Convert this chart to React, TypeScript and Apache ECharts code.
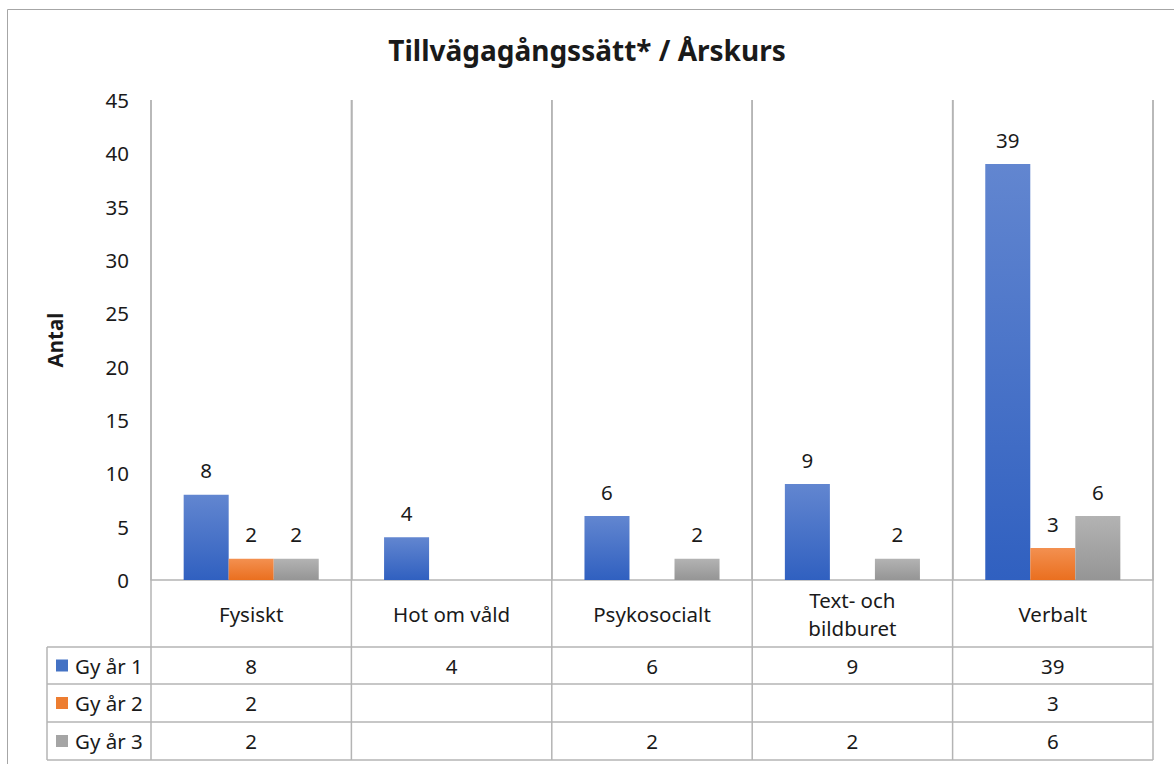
import React, { useEffect, useRef } from "react";
import * as echarts from "echarts";

const categories = ["Fysiskt", "Hot om våld", "Psykosocialt", "Text- och\nbildburet", "Verbalt"];
const seriesNames = ["Gy år 1", "Gy år 2", "Gy år 3"];
const gy1 = [8, 4, 6, 9, 39];
const gy2 = [2, null, null, null, 3];
const gy3 = [2, null, 2, 2, 6];
const yTicks = { min: 0, max: 45, interval: 5 };

const FONT = "'Noto Sans', Lato, sans-serif";
const GRID = { left: 151, top: 100, width: 1002, height: 480 };
const ROWS = [647, 684, 722, 760];
const TABLE_LEFT = 47;
const LINE = "#b4b4b4";
const FS = 20.5;

const grad = (top: string, bottom: string) =>
  new echarts.graphic.LinearGradient(0, 0, 0, 1, [
    { offset: 0, color: top },
    { offset: 1, color: bottom },
  ]);

const colors = [
  { top: "#6286d0", bottom: "#3060c0", key: "#4472c4" },
  { top: "#f39050", bottom: "#ea6f1f", key: "#ed7d31" },
  { top: "#b3b3b3", bottom: "#959595", key: "#a5a5a5" },
];

export default function App() {
  const ref = useRef<HTMLDivElement>(null);
  useEffect(() => {
    const chart = echarts.init(ref.current!, null, { renderer: "svg" });
    const allSeries = [gy1, gy2, gy3];
    const right = GRID.left + GRID.width;
    const band = GRID.width / categories.length;

    const graphics: any[] = [];
    graphics.push({
      type: "rect",
      shape: { x: 7.5, y: 9.5, width: 1180, height: 780 },
      style: { fill: "none", stroke: "#a6a6a6", lineWidth: 1 },
      silent: true,
    });
    ROWS.forEach((y) => {
      graphics.push({
        type: "line",
        shape: { x1: TABLE_LEFT, y1: y, x2: right, y2: y },
        style: { stroke: LINE, lineWidth: 1.5 },
      });
    });
    graphics.push({
      type: "line",
      shape: { x1: TABLE_LEFT, y1: ROWS[0], x2: TABLE_LEFT, y2: ROWS[3] },
      style: { stroke: LINE, lineWidth: 1.5 },
    });
    for (let i = 0; i <= categories.length; i++) {
      const x = GRID.left + band * i;
      graphics.push({
        type: "line",
        shape: { x1: x, y1: GRID.top, x2: x, y2: ROWS[3] },
        style: { stroke: LINE, lineWidth: 1.5 },
      });
    }
    allSeries.forEach((vals, r) => {
      const cy = (ROWS[r] + ROWS[r + 1]) / 2;
      graphics.push({
        type: "rect",
        shape: { x: 56, y: cy - 6, width: 12, height: 12 },
        style: { fill: colors[r].key },
      });
      graphics.push({
        type: "text",
        x: 75,
        y: cy,
        style: {
          text: seriesNames[r],
          font: `${FS}px ${FONT}`,
          fill: "#1a1a1a",
          verticalAlign: "middle",
          align: "left",
        },
      });
      vals.forEach((v, c) => {
        if (v == null) return;
        graphics.push({
          type: "text",
          x: GRID.left + band * (c + 0.5),
          y: cy,
          style: {
            text: String(v),
            font: `${FS}px ${FONT}`,
            fill: "#1a1a1a",
            align: "center",
            verticalAlign: "middle",
          },
        });
      });
    });

    chart.setOption({
      animation: false,
      backgroundColor: "#ffffff",
      title: {
        text: "Tillvägagångssätt* / Årskurs",
        left: "center",
        top: 31,
        textStyle: { fontFamily: FONT, fontSize: 28, fontWeight: "bold", color: "#1a1a1a" },
      },
      grid: { left: GRID.left, top: GRID.top, width: GRID.width, height: GRID.height },
      xAxis: {
        type: "category",
        data: categories,
        boundaryGap: true,
        axisTick: { show: false },
        axisLine: { show: true, lineStyle: { color: LINE, width: 1.5 } },
        splitLine: { show: true, lineStyle: { color: LINE, width: 1.5 } },
        axisLabel: {
          margin: 34,
          verticalAlign: "middle",
          lineHeight: 28,
          fontFamily: FONT,
          fontSize: FS,
          color: "#1a1a1a",
          interval: 0,
        },
      },
      yAxis: {
        type: "value",
        min: yTicks.min,
        max: yTicks.max,
        interval: yTicks.interval,
        name: "Antal",
        nameLocation: "middle",
        nameGap: 86,
        nameRotate: 90,
        nameTextStyle: { fontFamily: FONT, fontSize: FS, fontWeight: "bold", color: "#1a1a1a" },
        axisLine: { show: false },
        axisTick: { show: false },
        splitLine: { show: false },
        axisLabel: { margin: 22, fontFamily: FONT, fontSize: FS, color: "#1a1a1a" },
      },
      series: allSeries.map((vals, i) => ({
        type: "bar",
        name: seriesNames[i],
        data: vals,
        barGap: "0%",
        barCategoryGap: "32.6%",
        itemStyle: { color: grad(colors[i].top, colors[i].bottom) },
        label: {
          show: true,
          position: "top",
          distance: 14,
          fontFamily: FONT,
          fontSize: FS,
          color: "#1a1a1a",
        },
      })),
      graphic: graphics,
    });
    return () => chart.dispose();
  }, []);
  return (
    <div
      ref={ref}
      style={{ position: "absolute", left: 0, top: 0, width: 1174, height: 764 }}
    />
  );
}
